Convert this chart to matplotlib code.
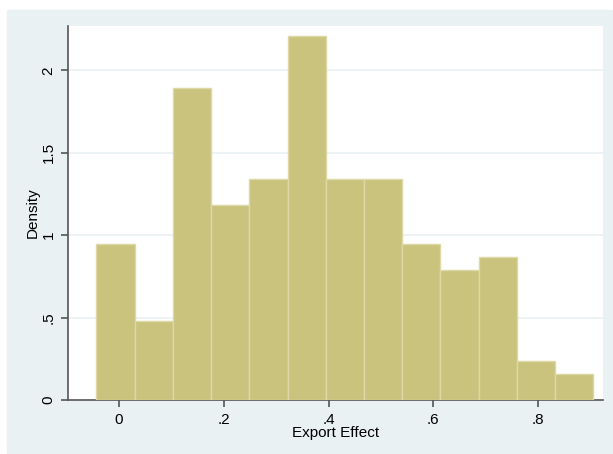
import numpy as np
import matplotlib.pyplot as plt
from matplotlib.patches import Rectangle

plt.rcParams['font.family'] = ['Liberation Sans', 'DejaVu Sans']

# histogram bins (equal width) and densities
bin_start = -0.0433
bin_width = 0.0730
density = [0.948, 0.477, 1.893, 1.183, 1.343, 2.211, 1.343, 1.343,
           0.948, 0.791, 0.870, 0.237, 0.160]
xticks = [0, 0.2, 0.4, 0.6, 0.8]
xtick_labels = ['0', '.2', '.4', '.6', '.8']
yticks = [0, 0.5, 1, 1.5, 2]
ytick_labels = ['0', '.5', '1', '1.5', '2']

bar_color = '#CAC37E'
edge_color = '#DDD8A6'
panel_color = '#EAF1F3'
axis_color = '#555555'

fig = plt.figure(figsize=(6.13, 4.54), dpi=100)
panel = Rectangle((7/613, 1/454), 605/613, 443/454, transform=fig.transFigure,
                  color=panel_color, zorder=-1)
fig.add_artist(panel)

ax = fig.add_axes([68/613, 54/454, 535/613, 374/454])
ax.set_facecolor('white')

lefts = bin_start + bin_width * np.arange(len(density))
ax.bar(lefts, density, width=bin_width, align='edge', color=bar_color,
       edgecolor=edge_color, linewidth=1, zorder=3)

ax.set_xlim(-0.0974, 0.924)
ax.set_ylim(0, 2.269)

for y in yticks[1:]:
    ax.axhline(y, color=panel_color, lw=1.2, zorder=1)

for s in ['top', 'right']:
    ax.spines[s].set_visible(False)
for s in ['left', 'bottom']:
    ax.spines[s].set_color(axis_color)
    ax.spines[s].set_linewidth(1.2)

ax.set_xticks(xticks)
ax.set_xticklabels(xtick_labels)
ax.set_yticks(yticks)
ax.set_yticklabels(ytick_labels, rotation=90, va='center')
ax.tick_params(axis='both', colors=axis_color, labelcolor='black', labelsize=11,
               length=5, width=1.2)
ax.tick_params(axis='x', pad=4)
ax.tick_params(axis='y', pad=4)

ax.set_xlabel('Export Effect', fontsize=11, labelpad=0)
ax.set_ylabel('Density', fontsize=11, labelpad=1)

fig.savefig('out.png', dpi=100, facecolor='white')
